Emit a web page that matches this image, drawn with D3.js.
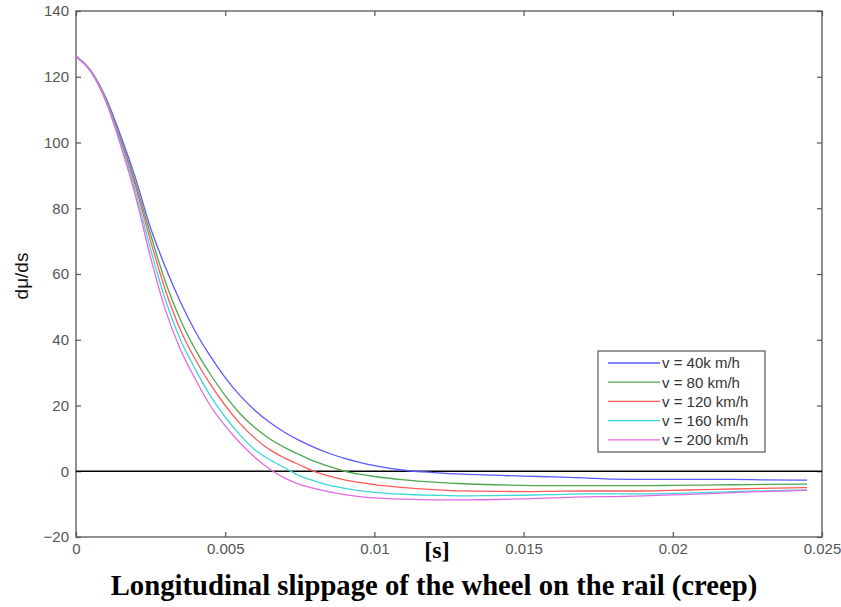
<!DOCTYPE html>
<html><head><meta charset="utf-8">
<script src="https://cdn.jsdelivr.net/npm/d3@7"></script>
<style>body{margin:0;background:#fff}svg{display:block}</style>
</head><body><svg id="c" width="841" height="607"></svg>
<script>
const xs = [0,0.0005,0.001,0.0015,0.002,0.0025,0.003,0.0035,0.004,0.0045,0.005,0.0055,0.006,0.0065,0.007,0.0075,0.008,0.0085,0.009,0.0095,0.010,0.011,0.012,0.013,0.014,0.015,0.016,0.017,0.018,0.019,0.020,0.021,0.022,0.023,0.0245];
const v40  = [126.2,121.8,113.6,102,89,74,62,51.5,42.5,35,28.5,23,18.5,14.8,11.8,9.3,7.2,5.4,3.9,2.7,1.7,0.3,-0.4,-0.9,-1.2,-1.5,-1.7,-2.0,-2.4,-2.5,-2.5,-2.5,-2.5,-2.6,-2.7];
const v80  = [126.2,121.7,113.3,101,87.5,72,57.5,46,37,29.5,23,17.5,13.2,9.8,7.2,5.0,3,1.4,0,-0.9,-1.6,-2.6,-3.3,-3.8,-4.1,-4.3,-4.4,-4.4,-4.4,-4.4,-4.3,-4.2,-4.1,-4.0,-3.9];
const v120 = [126.2,121.6,113,100.5,86.5,70,55,43,34,26.5,20,14.5,10,6.5,4,1.9,-0.1,-1.5,-2.6,-3.4,-4.1,-5.0,-5.6,-6.0,-6.1,-6.2,-6.1,-6.0,-6.0,-6.0,-5.8,-5.6,-5.4,-5.2,-5.0];
const v160 = [126.2,121.6,112.8,99.8,85,67.5,52,40,31,23,16.5,11,6.5,3.5,1,-1.4,-3,-4.3,-5.2,-5.9,-6.4,-7.0,-7.3,-7.5,-7.4,-7.3,-7.1,-6.9,-6.9,-6.9,-6.7,-6.5,-6.2,-6.0,-5.7];
const v200 = [126.2,121.5,112.5,99,83.5,65,49,37,28,20,13.8,8.6,4.2,0.6,-2.1,-4.0,-5.3,-6.3,-7.1,-7.7,-8.1,-8.5,-8.7,-8.7,-8.6,-8.4,-8.1,-7.8,-7.7,-7.5,-7.2,-6.9,-6.5,-6.2,-5.8];
const seriesNames = ["v = 40k m/h","v = 80 km/h","v = 120 km/h","v = 160 km/h","v = 200 km/h"];
const seriesValues = [v40,v80,v120,v160,v200];
const colors = ["#5a5aff","#4ea64e","#ff5a5a","#3cd8d8","#e46ae4"];
const xTicks = [0,0.005,0.01,0.015,0.02,0.025];
const xTickLabels = ["0","0.005","0.01","0.015","0.02","0.025"];
const yTicks = [-20,0,20,40,60,80,100,120,140];

const svg = d3.select("#c");
const L=76,R=822,T=11,B=537;
const x = d3.scaleLinear().domain([0,0.025]).range([L,R]);
const y = d3.scaleLinear().domain([-20,140]).range([B,T]);
const axisCol="#555", txtCol="#555";
const sans = "Liberation Sans, Arial, sans-serif", serif = "Liberation Serif, Times New Roman, serif";

svg.append("rect").attr("x",L).attr("y",T).attr("width",R-L).attr("height",B-T)
  .attr("fill","#fff").attr("stroke",axisCol).attr("stroke-width",1.3);

const gxB = svg.append("g").attr("transform",`translate(0,${B})`)
  .call(d3.axisBottom(x).tickValues(xTicks).tickSize(-5).tickPadding(6).tickFormat((d,i)=>xTickLabels[i]));
const gxT = svg.append("g").attr("transform",`translate(0,${T})`)
  .call(d3.axisTop(x).tickValues(xTicks).tickSize(-5).tickFormat(""));
const gyL = svg.append("g").attr("transform",`translate(${L},0)`)
  .call(d3.axisLeft(y).tickValues(yTicks).tickSize(-5).tickPadding(7));
const gyR = svg.append("g").attr("transform",`translate(${R},0)`)
  .call(d3.axisRight(y).tickValues(yTicks).tickSize(-5).tickFormat(""));
[gxB,gxT,gyL,gyR].forEach(g=>{
  g.select(".domain").remove();
  g.selectAll(".tick line").attr("stroke",axisCol).attr("stroke-width",1.2);
  g.selectAll(".tick text").attr("fill",txtCol).style("font-family",sans).style("font-size","15px");
});

svg.append("line").attr("x1",L).attr("x2",R).attr("y1",y(0)).attr("y2",y(0))
  .attr("stroke","#000").attr("stroke-width",1.4);

const line = d3.line().x((d,i)=>x(xs[i])).y(d=>y(d)).curve(d3.curveMonotoneX);
seriesValues.forEach((vals,k)=>{
  svg.append("path").datum(vals).attr("d",line).attr("fill","none")
    .attr("stroke",colors[k]).attr("stroke-width",1.3);
});

const lg = svg.append("g");
lg.append("rect").attr("x",598).attr("y",351).attr("width",167).attr("height",101)
  .attr("fill","#fff").attr("stroke",axisCol).attr("stroke-width",1.2);
seriesNames.forEach((n,k)=>{
  const yy = 363 + k*19.2;
  lg.append("line").attr("x1",608).attr("x2",660).attr("y1",yy).attr("y2",yy)
    .attr("stroke",colors[k]).attr("stroke-width",1.3);
  lg.append("text").attr("x",662).attr("y",yy+5.3).text(n)
    .attr("fill","#333").style("font-family",sans).style("font-size","15px");
});

svg.append("text").attr("transform","translate(28,276) rotate(-90)").attr("text-anchor","middle")
  .text("dμ/ds").attr("fill","#111").style("font-family",sans).style("font-size","19px");

svg.append("text").attr("x",437).attr("y",558).attr("text-anchor","middle").text("[s]")
  .attr("fill","#000").style("font-family",serif).style("font-weight","bold").style("font-size","24px");

svg.append("text").attr("x",434).attr("y",595).attr("text-anchor","middle")
  .text("Longitudinal slippage of the wheel on the rail (creep)")
  .attr("fill","#000").style("font-family",serif).style("font-weight","bold").style("font-size","28.7px");
</script></body></html>
